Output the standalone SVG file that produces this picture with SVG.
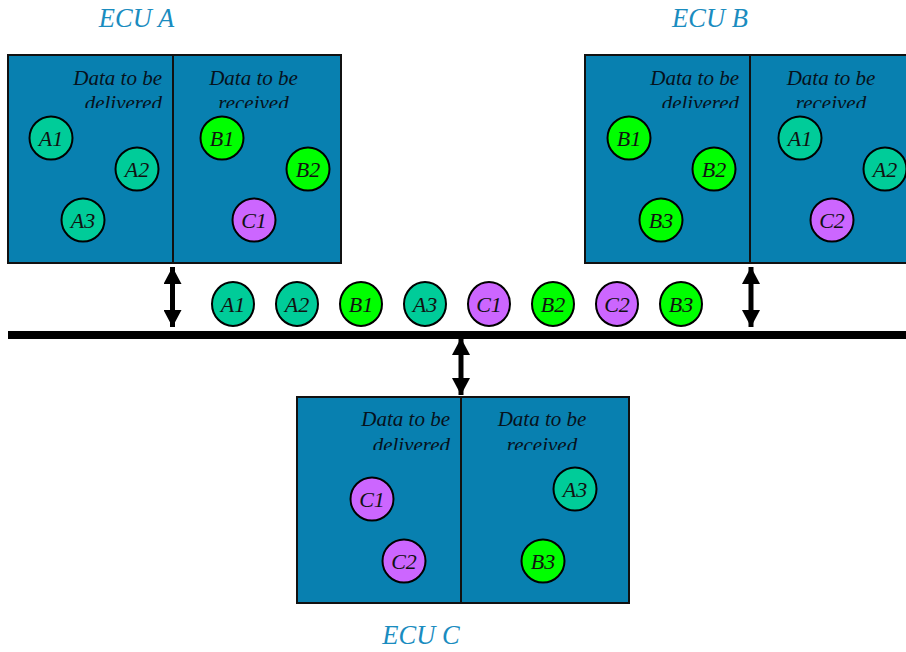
<svg xmlns="http://www.w3.org/2000/svg" width="906" height="652" viewBox="0 0 906 652">
<style>
.box{fill:#0880b0;stroke:#111;stroke-width:2}
.div{stroke:#111;stroke-width:2}
.lbl{font-family:"Liberation Serif",serif;font-style:italic;font-size:26.5px;fill:#1a8cbf;text-anchor:middle}
.hd{font-family:"Liberation Serif",serif;font-style:italic;font-size:21px;fill:#06121c}
.end{text-anchor:end}
.mid{text-anchor:middle}
.ca{fill:#00cc99;stroke:#000;stroke-width:2}
.cb{fill:#00ff00;stroke:#000;stroke-width:2}
.cc{fill:#cc66ff;stroke:#000;stroke-width:2}
.ct{font-family:"Liberation Serif",serif;font-style:italic;font-size:22px;fill:#111;text-anchor:middle}
.arr{stroke:#000;stroke-width:5;fill:none}
</style>
<defs>
<marker id="ah" viewBox="0 0 17 18" refX="17" refY="9" markerWidth="17" markerHeight="18" markerUnits="userSpaceOnUse" orient="auto-start-reverse"><path d="M0,0 L17,9 L0,18 z" fill="#000"/></marker>
<clipPath id="clA"><rect x="0" y="0" width="906" height="108"/></clipPath>
<clipPath id="clC"><rect x="0" y="0" width="906" height="450"/></clipPath>
</defs>

<g id="ecuA">
<text class="lbl" x="136.5" y="27">ECU A</text>
<rect class="box" x="8" y="55" width="333" height="208"/>
<line class="div" x1="173" y1="55" x2="173" y2="263"/>
<text class="hd end" x="162" y="85">Data to be</text>
<text class="hd end" x="162" y="110" clip-path="url(#clA)">delivered</text>
<text class="hd mid" x="253.5" y="85">Data to be</text>
<text class="hd mid" x="253.5" y="110" clip-path="url(#clA)">received</text>
<circle class="ca" cx="51" cy="138" r="21.5"/><text class="ct" x="51" y="145.5">A1</text>
<circle class="ca" cx="137" cy="169" r="21.5"/><text class="ct" x="137" y="176.5">A2</text>
<circle class="ca" cx="83" cy="220" r="21.5"/><text class="ct" x="83" y="227.5">A3</text>
<circle class="cb" cx="222" cy="138" r="21.5"/><text class="ct" x="222" y="145.5">B1</text>
<circle class="cb" cx="308" cy="169" r="21.5"/><text class="ct" x="308" y="176.5">B2</text>
<circle class="cc" cx="254" cy="220" r="21.5"/><text class="ct" x="254" y="227.5">C1</text>
</g>

<g id="ecuB">
<text class="lbl" x="710" y="27">ECU B</text>
<rect class="box" x="585" y="55" width="330" height="208"/>
<line class="div" x1="750" y1="55" x2="750" y2="263"/>
<text class="hd end" x="739" y="85">Data to be</text>
<text class="hd end" x="739" y="110" clip-path="url(#clA)">delivered</text>
<text class="hd mid" x="831" y="85">Data to be</text>
<text class="hd mid" x="831" y="110" clip-path="url(#clA)">received</text>
<circle class="cb" cx="629" cy="138" r="21.5"/><text class="ct" x="629" y="145.5">B1</text>
<circle class="cb" cx="714" cy="169" r="21.5"/><text class="ct" x="714" y="176.5">B2</text>
<circle class="cb" cx="661" cy="220" r="21.5"/><text class="ct" x="661" y="227.5">B3</text>
<circle class="ca" cx="800" cy="138" r="21.5"/><text class="ct" x="800" y="145.5">A1</text>
<circle class="ca" cx="885" cy="169" r="21.5"/><text class="ct" x="885" y="176.5">A2</text>
<circle class="cc" cx="832" cy="220" r="21.5"/><text class="ct" x="832" y="227.5">C2</text>
</g>

<g id="ecuC">
<rect class="box" x="297" y="397" width="332" height="206"/>
<line class="div" x1="461" y1="397" x2="461" y2="603"/>
<text class="hd end" x="450" y="426">Data to be</text>
<text class="hd end" x="450" y="452" clip-path="url(#clC)">delivered</text>
<text class="hd mid" x="542" y="426">Data to be</text>
<text class="hd mid" x="542" y="452" clip-path="url(#clC)">received</text>
<circle class="cc" cx="372" cy="499" r="21.5"/><text class="ct" x="372" y="506.5">C1</text>
<circle class="cc" cx="404" cy="561" r="21.5"/><text class="ct" x="404" y="568.5">C2</text>
<circle class="ca" cx="575" cy="489" r="21.5"/><text class="ct" x="575" y="496.5">A3</text>
<circle class="cb" cx="543" cy="561" r="21.5"/><text class="ct" x="543" y="568.5">B3</text>
<text class="lbl" x="421" y="644">ECU C</text>
</g>

<g id="bus">
<line x1="8" y1="335" x2="906" y2="335" stroke="#000" stroke-width="8"/>
</g>

<g id="frames">
<ellipse class="ca" cx="233" cy="304" rx="21" ry="22"/><text class="ct" x="233" y="311.5">A1</text>
<ellipse class="ca" cx="297" cy="304" rx="21" ry="22"/><text class="ct" x="297" y="311.5">A2</text>
<ellipse class="cb" cx="361" cy="304" rx="21" ry="22"/><text class="ct" x="361" y="311.5">B1</text>
<ellipse class="ca" cx="425" cy="304" rx="21" ry="22"/><text class="ct" x="425" y="311.5">A3</text>
<ellipse class="cc" cx="489" cy="304" rx="21" ry="22"/><text class="ct" x="489" y="311.5">C1</text>
<ellipse class="cb" cx="553" cy="304" rx="21" ry="22"/><text class="ct" x="553" y="311.5">B2</text>
<ellipse class="cc" cx="617" cy="304" rx="21" ry="22"/><text class="ct" x="617" y="311.5">C2</text>
<ellipse class="cb" cx="681" cy="304" rx="21" ry="22"/><text class="ct" x="681" y="311.5">B3</text>
</g>

<g id="connectors">
<line class="arr" x1="172.5" y1="267" x2="172.5" y2="327" marker-start="url(#ah)" marker-end="url(#ah)"/>
<line class="arr" x1="751" y1="267" x2="751" y2="327" marker-start="url(#ah)" marker-end="url(#ah)"/>
<line class="arr" x1="461" y1="338" x2="461" y2="395" marker-start="url(#ah)" marker-end="url(#ah)"/>
</g>
</svg>
